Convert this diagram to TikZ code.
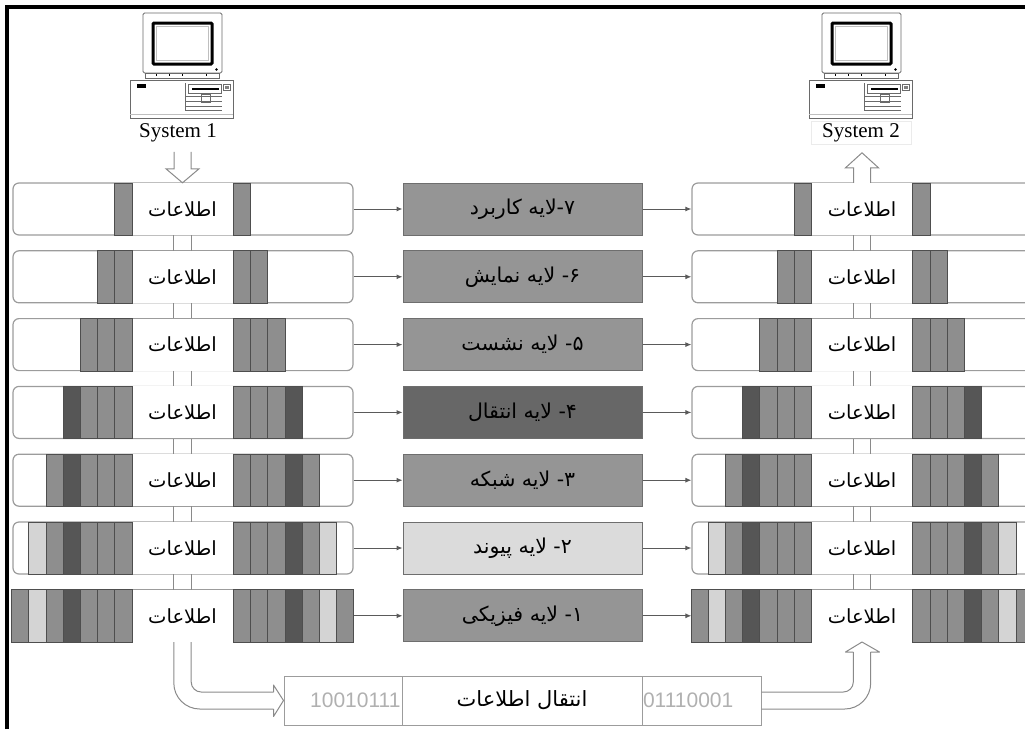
\documentclass[tikz,border=0pt]{standalone}
\usepackage{fontspec}
\setmainfont{Liberation Serif}
\newfontfamily\fafont[Script=Arabic]{DejaVu Sans}
\newfontfamily\numfont{Liberation Sans}
\TeXXeTstate=1
\usetikzlibrary{arrows.meta,calc}

\definecolor{bandM}{HTML}{8E8E8E}
\definecolor{bandD}{HTML}{565656}
\definecolor{bandL}{HTML}{D4D4D4}
\definecolor{bandEdge}{HTML}{4E4E4E}
\definecolor{midM}{HTML}{959595}
\definecolor{midD}{HTML}{676767}
\definecolor{midL}{HTML}{DBDBDB}
\definecolor{midEdge}{HTML}{6E6E6E}
\definecolor{rowEdge}{HTML}{9C9C9C}
\definecolor{pipeGray}{HTML}{8A8A8A}
\definecolor{linkGray}{HTML}{5A5A5A}
\definecolor{bitGray}{HTML}{B0B0B0}
\definecolor{iconGray}{HTML}{6A6A6A}

% layer caption: Persian words, then the dash and the Persian digit on the right
\newcommand\layercap[3]{{\beginR #1\endR}#2\hbox{-}\hbox{#3}}

\tikzset{
  rowbox/.style={draw=rowEdge, line width=1.2pt, rounded corners=6pt, fill=white,
    minimum width=340pt, minimum height=52pt, inner sep=0pt},
  infobox/.style={fill=white, minimum width=101pt, minimum height=52pt, inner sep=0pt,
    font=\fafont\fontsize{19.5}{23}\selectfont},
  layerbox/.style={draw=midEdge, line width=1pt, minimum width=239pt, minimum height=52pt,
    inner sep=0pt, font=\fafont\fontsize{20.5}{24}\selectfont},
  band/.style={draw=bandEdge, line width=0.6pt},
  link/.style={draw=linkGray, line width=1pt, -{Latex[length=6pt,width=5pt]}},
  pipe/.style={draw=pipeGray, line width=1pt},
  hollow/.style={draw=pipeGray, line width=1pt, fill=white, line join=miter},
  barcell/.style={draw=rowEdge, line width=1pt, minimum height=49pt, inner sep=0pt},
  systext/.style={font=\fontsize{21}{24}\selectfont, inner sep=2pt},
  computer/.pic={
    % monitor
    \draw[iconGray, line width=0.8pt, rounded corners=1.5pt] (-39.5,13) rectangle (39.5,73);
    \draw[iconGray, line width=0.8pt] (-37,73) rectangle (37,78);
    \foreach \t in {-27,-14,-1,23} \fill (\t,73.5) rectangle ++(1.6,2.5);
    \draw[line width=3pt, rounded corners=1pt] (-29.5,23) rectangle (29.5,64);
    \draw[gray!50, line width=0.6pt] (-26,26.5) rectangle (26,60.5);
    \fill (34,69.5) circle (1.3);
    % system unit
    \draw[iconGray, line width=0.8pt] (-52.5,80) rectangle (50.5,118);
    \draw[gray!50, line width=0.6pt] (-52.5,114) -- (50.5,114);
    \fill (-46,84) rectangle (-37,88);
    \draw[iconGray, line width=0.6pt] (2.5,83) -- (2.5,110);
    \draw[iconGray, line width=0.6pt] (6,84) rectangle (39,93);
    \fill (9,87.5) rectangle (36,89.5);
    \draw[iconGray, line width=0.6pt] (41,84) rectangle (48,90);
    \fill[gray] (42.5,85.5) rectangle (46.5,88.5);
    \foreach \h in {96,101,106,110} \draw[iconGray, line width=0.6pt] (2.5,\h) -- (39,\h);
    \draw[iconGray, line width=0.6pt] (19,94) rectangle (28,102);
  }
}

\begin{document}
\begin{tikzpicture}[x=1pt,y=-1pt]
\useasboundingbox (0,0) rectangle (1025,729);
\clip (0,0) rectangle (1025,729);

% frame
\draw[line width=4pt, line join=miter] (7,729) -- (7,7) -- (1025,7);

% the two computers
\pic at (182.5,0) {computer};
\pic at (861.5,0) {computer};
\node[systext] (sys1) at (178,133) {System 1};
\node[systext, fill=white, draw=black!8, line width=0.6pt, minimum width=100pt] (sys2) at (861,133) {System 2};

% layer rows
\foreach \i/\mc/\lab in {
  0/midM/{\layercap{لایه کاربرد}{}{۷}},
  1/midM/{\layercap{لایه نمایش}{\ }{۶}},
  2/midM/{\layercap{لایه نشست}{\ }{۵}},
  3/midD/{\layercap{لایه انتقال}{\ }{۴}},
  4/midM/{\layercap{لایه شبکه}{\ }{۳}},
  5/midL/{\layercap{لایه پیوند}{\ }{۲}},
  6/midM/{\layercap{لایه فیزیکی}{\ }{۱}}}{
  \pgfmathsetmacro\yc{209+67.8*\i}
  \pgfmathtruncatemacro\nb{\i+1}
  \ifnum\i<6
    \node[rowbox] (L\i) at (183,\yc) {};
    \node[rowbox] (R\i) at (862,\yc) {};
  \else
    \node[rowbox, sharp corners] (L\i) at (183,\yc) {};
    \node[rowbox, sharp corners] (R\i) at (862,\yc) {};
  \fi
  \node[infobox] (Li\i) at (182.5,\yc) {\beginR اطلاعات\endR};
  \node[infobox] (Ri\i) at (862,\yc) {\beginR اطلاعات\endR};
  \foreach \k/\bc in {1/bandM,2/bandM,3/bandM,4/bandD,5/bandM,6/bandL,7/bandM}{
    \ifnum\k>\nb\relax\else
      \filldraw[band, fill=\bc] ($(Li\i.north west)+({-17.2*\k},0)$) rectangle ($(Li\i.south west)+({-17.2*(\k-1)},0)$);
      \filldraw[band, fill=\bc] ($(Li\i.north east)+({17.2*(\k-1)},0)$) rectangle ($(Li\i.south east)+({17.2*\k},0)$);
      \filldraw[band, fill=\bc] ($(Ri\i.north west)+({-17.2*\k},0)$) rectangle ($(Ri\i.south west)+({-17.2*(\k-1)},0)$);
      \filldraw[band, fill=\bc] ($(Ri\i.north east)+({17.2*(\k-1)},0)$) rectangle ($(Ri\i.south east)+({17.2*\k},0)$);
    \fi}
  \node[layerbox, fill=\mc] (M\i) at (522.5,\yc) {\lab};
  \draw[link] (L\i.east) -- (M\i.west);
  \draw[link] (M\i.east) -- (R\i.west);
}

% pipes between rows
\foreach \i in {0,...,5}{
  \pgfmathtruncatemacro\j{\i+1}
  \draw[pipe] ([xshift=-8.7pt]Li\i.south) -- ([xshift=-8.7pt]Li\j.north);
  \draw[pipe] ([xshift=8.7pt]Li\i.south) -- ([xshift=8.7pt]Li\j.north);
  \draw[pipe] ([xshift=-8.7pt]Ri\i.south) -- ([xshift=-8.7pt]Ri\j.north);
  \draw[pipe] ([xshift=8.7pt]Ri\i.south) -- ([xshift=8.7pt]Ri\j.north);
}

% hollow arrow down into the sending stack
\draw[hollow] ($(Li0.north)+(-8.5,-31)$) -- ($(Li0.north)+(-8.5,-14)$) -- ($(Li0.north)+(-16.5,-14)$)
  -- (Li0.north) -- ($(Li0.north)+(16.5,-14)$) -- ($(Li0.north)+(8.5,-14)$) -- ($(Li0.north)+(8.5,-31)$);
% hollow arrow up out of the receiving stack
\draw[hollow] ($(Ri0.north)+(-8.5,0)$) -- ($(Ri0.north)+(-8.5,-15)$) -- ($(Ri0.north)+(-16.5,-15)$)
  -- ($(Ri0.north)+(0,-30)$) -- ($(Ri0.north)+(16.5,-15)$) -- ($(Ri0.north)+(8.5,-15)$) -- ($(Ri0.north)+(8.5,0)$);

% transmission bar
\node[barcell, minimum width=118pt, text width=115pt, align=right, font=\numfont\fontsize{21}{24}\selectfont,
  text=bitGray] (bitsA) at (343,700.5) {10010111};
\node[barcell, minimum width=240pt, font=\fafont\fontsize{21}{25}\selectfont] (xfer) at (522,700.5)
  {\beginR انتقال اطلاعات\endR};
\node[barcell, minimum width=119pt, text width=117pt, align=left, font=\numfont\fontsize{21}{24}\selectfont,
  text=bitGray] (bitsB) at (701.5,700.5) {01110001};

% hollow bent arrow from the sending stack to the bar
\draw[pipe, rounded corners=10pt] ([xshift=8.7pt]Li6.south) |- ($(bitsA.west)+(-10,-8.5)$);
\draw[pipe, rounded corners=26pt] ([xshift=-8.7pt]Li6.south) |- ($(bitsA.west)+(-10,8.5)$);
\draw[pipe, line join=round] ($(bitsA.west)+(-10,-8.5)$) -- ($(bitsA.west)+(-10,-15.5)$) -- (bitsA.west)
  -- ($(bitsA.west)+(-10,16)$) -- ($(bitsA.west)+(-10,8.5)$);

% hollow bent arrow from the bar up into the receiving stack
\draw[pipe, rounded corners=10pt] ($(bitsB.east)+(0,-8.5)$) -| ($(Ri6.south)+(-8.7,10)$);
\draw[pipe, rounded corners=26pt] ($(bitsB.east)+(0,8.5)$) -| ($(Ri6.south)+(8.7,10)$);
\draw[pipe, line join=round] ($(Ri6.south)+(-8.7,10)$) -- ($(Ri6.south)+(-16.5,10)$) -- (Ri6.south)
  -- ($(Ri6.south)+(17.5,10)$) -- ($(Ri6.south)+(8.7,10)$);
\end{tikzpicture}
\end{document}
